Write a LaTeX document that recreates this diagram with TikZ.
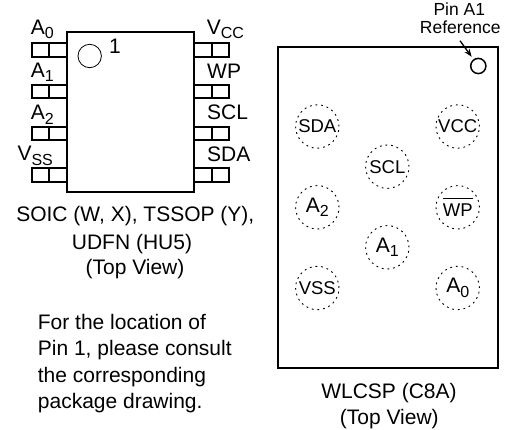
\documentclass[tikz,border=0pt]{standalone}
\usepackage{fontspec}
\setmainfont{Liberation Sans}
\usetikzlibrary{arrows.meta}
\newcommand{\pinsub}[1]{\raisebox{-4.5pt}{\fontsize{16}{16}\selectfont #1}}
\newcommand{\pinbar}[1]{\setbox0\hbox{#1}\rlap{\raisebox{17pt}{\rule{\wd0}{1pt}}}#1}
\tikzset{
  lbl/.style={inner sep=0pt,font=\fontsize{21}{21}\selectfont,anchor=base},
  pinlbl/.style={lbl,anchor=base west},
  small/.style={inner sep=0pt,font=\fontsize{17.5}{17.5}\selectfont,anchor=base},
  ball/.style={circle,draw,line width=0.9pt,dash pattern=on 1.8pt off 3.88pt,minimum size=43.4pt,inner sep=0pt,font=\fontsize{18.5}{18.5}\selectfont},
  ballbig/.style={ball,font=\fontsize{21}{21}\selectfont},
  pinbox/.style={line width=2pt}
}
\begin{document}
\begin{tikzpicture}[x=1pt,y=-1pt]
\useasboundingbox (0,0) rectangle (512,430);

%pins
\foreach \y in {50,91.7,133.3,175}{
  \draw [pinbox] (66.7,\y-6.7) -- (32,\y-6.7) -- (32,\y+6.7) -- (66.7,\y+6.7);
  \draw [pinbox] (49,\y-6.7) -- (49,\y+6.7);
  \draw [pinbox] (194.3,\y-6.7) -- (228.7,\y-6.7) -- (228.7,\y+6.7) -- (194.3,\y+6.7);
  \draw [pinbox] (212,\y-6.7) -- (212,\y+6.7);
}

%body
\node [draw,line width=2pt,minimum width=127.6pt,minimum height=160.6pt,inner sep=0pt] (soic) at (130.5,112) {};
\node [circle,draw,line width=0.8pt,minimum size=23.4pt,inner sep=0pt] (dot) at (89.7,56) {};
\node [lbl] (one) at (115,53.3) {1};

%pin names
\node [pinlbl] (azero) at (30.7,34.3) {A\pinsub{0}};
\node [pinlbl] (aone) at (30.7,77.3) {A\pinsub{1}};
\node [pinlbl] (atwo) at (30.7,120) {A\pinsub{2}};
\node [pinlbl] (vss) at (17.3,161) {V\pinsub{SS}};
\node [pinlbl] (vcc) at (206.7,34.3) {V\pinsub{CC}};
\node [pinlbl] (wp) at (207,78.3) {WP};
\node [pinlbl] (scl) at (207,120) {SCL};
\node [pinlbl] (sda) at (207,161.7) {SDA};

%captions
\node [lbl] (soicone) at (135.3,221.7) {SOIC (W, X), TSSOP (Y),};
\node [lbl] (soictwo) at (132,249.3) {UDFN (HU5)};
\node [lbl] (soicthree) at (135,275) {(Top View)};
\node [pinlbl] (noteone) at (37.7,330) {For the location of};
\node [pinlbl] (notetwo) at (37.7,356) {Pin 1, please consult};
\node [pinlbl] (notethree) at (37.7,382.7) {the corresponding};
\node [pinlbl] (notefour) at (37.7,408.3) {package drawing.};

%wlcsp
\node [draw,line width=2pt,minimum width=220pt,minimum height=321.6pt,inner sep=0pt] (wlcsp) at (387.7,207.5) {};
\node [circle,draw,line width=1.5pt,minimum size=15.2pt,inner sep=0pt] (mark) at (478.3,66) {};
\node [small] (pina) at (459.3,16) {Pin A1};
\node [small] (refer) at (460.3,33.3) {Reference};
\coordinate (tail) at (460,40.7);
\draw [-{Stealth[length=8pt,width=6pt]},line width=1.3pt,shorten >=3pt] (tail) -- (mark);

%balls
\node [ball] (bsda) at (317.3,126.5) {SDA};
\node [ball] (bvcc) at (457.7,126.5) {VCC};
\node [ball] (bscl) at (387.3,166.7) {SCL};
\node [ballbig] (bat) at (317.3,207.3) {A\pinsub{2}};
\node [ball] (bwp) at (457.7,207.3) {\pinbar{WP}};
\node [ballbig] (baa) at (387.3,247.3) {A\pinsub{1}};
\node [ball] (bvss) at (317.3,288) {VSS};
\node [ballbig] (baz) at (457.7,288) {A\pinsub{0}};

\node [lbl] (wone) at (389,398.7) {WLCSP (C8A)};
\node [lbl] (wtwo) at (389.3,425) {(Top View)};
\end{tikzpicture}
\end{document}
